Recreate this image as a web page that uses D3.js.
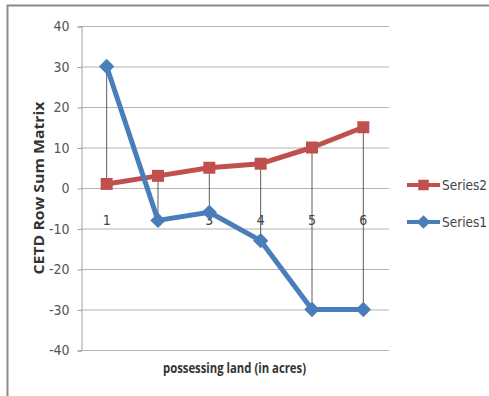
<!DOCTYPE html>
<html>
<head>
<meta charset="utf-8">
<script src="https://cdn.jsdelivr.net/npm/d3@7"></script>
<style>
  body { margin: 0; background: #fff; }
  svg { display: block; }
</style>
</head>
<body>
<svg width="489" height="396"></svg>
<script>
// chart data
var categories = ["1", "2", "3", "4", "5", "6"];
var series1 = [30, -8, -6, -13, -30, -30];
var series2 = [1, 3, 5, 6, 10, 15];
var yTicks = [40, 30, 20, 10, 0, -10, -20, -30, -40];

var svg = d3.select("svg");
var font = "'Liberation Sans Narrow', 'DejaVu Sans Condensed', 'Open Sans', sans-serif";

// outer frame (top + left edges visible)
svg.append("rect")
    .attr("x", 7.5)
    .attr("y", 5.5)
    .attr("width", 490)
    .attr("height", 400)
    .attr("fill", "#fff")
    .attr("stroke", "#8a8a8a")
    .attr("stroke-width", 2);

var plotLeft = 81, plotRight = 389, plotTop = 26, plotBottom = 350;

var x = d3.scaleBand()
    .domain(categories)
    .range([plotLeft, plotRight]);

var y = d3.scaleLinear()
    .domain([-40, 40])
    .range([plotBottom, plotTop]);

// gridlines
svg.append("g")
    .selectAll("line")
    .data(yTicks)
    .enter()
    .append("line")
    .attr("x1", plotLeft)
    .attr("x2", plotRight)
    .attr("y1", function(d) { return y(d) + 0.5; })
    .attr("y2", function(d) { return y(d) + 0.5; })
    .attr("stroke", "#b4b4b4")
    .attr("stroke-width", 1.2);

// y axis
var yAxis = d3.axisLeft(y)
    .tickValues(yTicks)
    .tickFormat(function(d) { return String(d); })
    .tickSize(4)
    .tickPadding(8);
var gy = svg.append("g")
    .attr("transform", "translate(" + (plotLeft + 0.5) + ",0.5)")
    .call(yAxis);
gy.select(".domain").attr("stroke", "#a0a0a0");
gy.selectAll(".tick line").attr("stroke", "#a0a0a0");
gy.selectAll("text")
    .style("font-family", font)
    .style("font-size", "14px")
    .attr("fill", "#555");

// high-low lines
svg.append("g")
    .selectAll("line")
    .data(categories)
    .enter()
    .append("line")
    .attr("x1", function(d) { return x(d) + x.bandwidth() / 2; })
    .attr("x2", function(d) { return x(d) + x.bandwidth() / 2; })
    .attr("y1", function(d, i) { return y(Math.max(series1[i], series2[i])); })
    .attr("y2", function(d, i) { return y(Math.min(series1[i], series2[i])); })
    .attr("stroke", "#333")
    .attr("stroke-width", 0.8);

// category labels near the zero line
svg.append("g")
    .selectAll("text")
    .data(categories)
    .enter()
    .append("text")
    .attr("x", function(d) { return x(d) + x.bandwidth() / 2; })
    .attr("y", y(0) + 37)
    .attr("text-anchor", "middle")
    .style("font-family", font)
    .style("font-size", "14px")
    .attr("fill", "#444")
    .text(function(d) { return d; });

var line = d3.line()
    .x(function(d, i) { return x(categories[i]) + x.bandwidth() / 2; })
    .y(function(d) { return y(d); });

// Series2 (red squares)
svg.append("path")
    .datum(series2)
    .attr("d", line)
    .attr("fill", "none")
    .attr("stroke", "#c0504d")
    .attr("stroke-width", 5)
    .attr("stroke-linejoin", "round");
svg.append("g")
    .selectAll("rect")
    .data(series2)
    .enter()
    .append("rect")
    .attr("x", function(d, i) { return x(categories[i]) + x.bandwidth() / 2 - 6; })
    .attr("y", function(d) { return y(d) - 6; })
    .attr("width", 12)
    .attr("height", 12)
    .attr("fill", "#c0504d");

// Series1 (blue diamonds)
svg.append("path")
    .datum(series1)
    .attr("d", line)
    .attr("fill", "none")
    .attr("stroke", "#4a7ebb")
    .attr("stroke-width", 5)
    .attr("stroke-linejoin", "round");
var diamond = d3.symbol().type(d3.symbolDiamond2).size(150);
svg.append("g")
    .selectAll("path")
    .data(series1)
    .enter()
    .append("path")
    .attr("d", diamond)
    .attr("transform", function(d, i) {
        return "translate(" + (x(categories[i]) + x.bandwidth() / 2) + "," + y(d) + ")";
    })
    .attr("fill", "#4a7ebb");

// legend
var legend = [
    { name: "Series2", color: "#c0504d", shape: "square", y: 185 },
    { name: "Series1", color: "#4a7ebb", shape: "diamond", y: 222 }
];
var lg = svg.append("g")
    .selectAll("g")
    .data(legend)
    .enter()
    .append("g")
    .attr("transform", function(d) { return "translate(407," + d.y + ")"; });
lg.append("line")
    .attr("x1", 0)
    .attr("x2", 33)
    .attr("stroke", function(d) { return d.color; })
    .attr("stroke-width", 4);
lg.append("path")
    .attr("d", function(d) {
        return d.shape === "square"
            ? d3.symbol().type(d3.symbolSquare).size(110)()
            : d3.symbol().type(d3.symbolDiamond2).size(120)();
    })
    .attr("transform", "translate(16.5,0)")
    .attr("fill", function(d) { return d.color; });
lg.append("text")
    .attr("x", 35)
    .attr("y", 5)
    .style("font-family", font)
    .style("font-size", "13.5px")
    .attr("fill", "#444")
    .text(function(d) { return d.name; });

// axis titles
svg.append("text")
    .attr("transform", "translate(44,188) rotate(-90)")
    .attr("text-anchor", "middle")
    .attr("textLength", 173)
    .attr("lengthAdjust", "spacingAndGlyphs")
    .style("font-family", "'Open Sans', sans-serif")
    .style("font-weight", "bold")
    .style("font-size", "14px")
    .attr("fill", "#333")
    .text("CETD Row Sum Matrix");

svg.append("text")
    .attr("x", 234.5)
    .attr("y", 373)
    .attr("text-anchor", "middle")
    .attr("textLength", 143)
    .attr("lengthAdjust", "spacingAndGlyphs")
    .style("font-family", "'Open Sans', sans-serif")
    .style("font-weight", "bold")
    .style("font-size", "14px")
    .attr("fill", "#333")
    .text("possessing land (in acres)");
</script>
</body>
</html>
